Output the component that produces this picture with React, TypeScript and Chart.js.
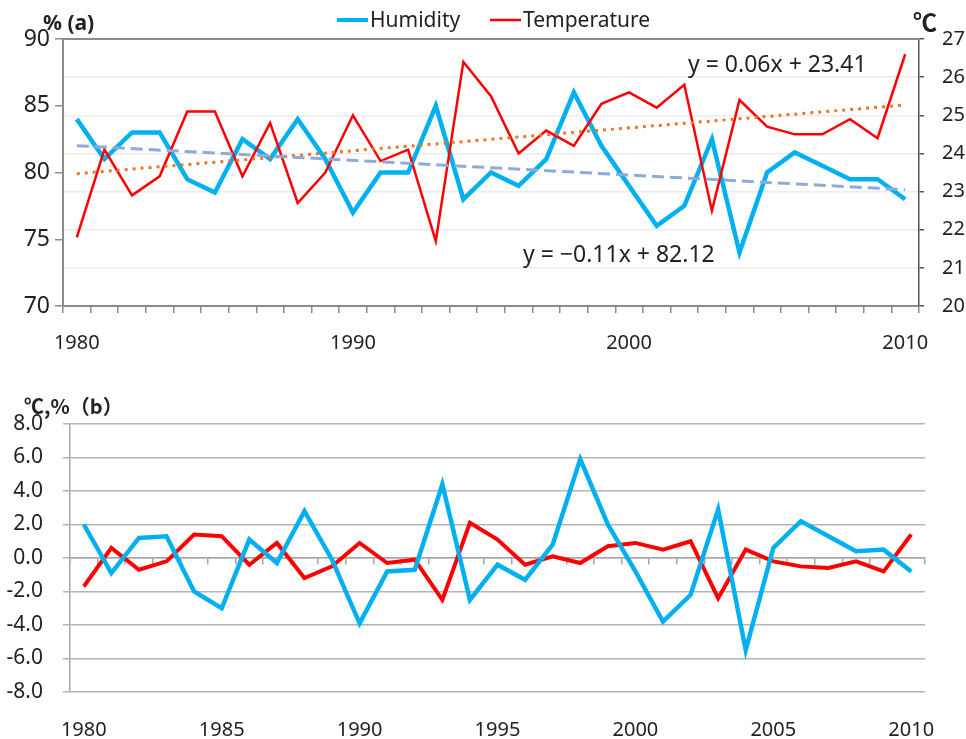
import React, { useEffect, useRef } from "react";
import { Chart, registerables } from "chart.js";

Chart.register(...registerables);

// ---------- data ----------
const years = [
  "1980", "1981", "1982", "1983", "1984", "1985", "1986", "1987", "1988", "1989",
  "1990", "1991", "1992", "1993", "1994", "1995", "1996", "1997", "1998", "1999",
  "2000", "2001", "2002", "2003", "2004", "2005", "2006", "2007", "2008", "2009", "2010",
];

const humidity = [
  84, 81, 83, 83, 79.5, 78.5, 82.5, 81, 84, 81,
  77, 80, 80, 85, 78, 80, 79, 81, 86, 82,
  79, 76, 77.5, 82.5, 74, 80, 81.5, 80.5, 79.5, 79.5, 78,
];

const temperature = [
  21.8, 24.1, 22.9, 23.4, 25.1, 25.1, 23.4, 24.8, 22.7, 23.5,
  25.0, 23.8, 24.1, 21.7, 26.4, 25.5, 24.0, 24.6, 24.2, 25.3,
  25.6, 25.2, 25.8, 22.5, 25.4, 24.7, 24.5, 24.5, 24.9, 24.4, 26.6,
];

const humidityAnomaly = [
  2.0, -0.9, 1.2, 1.3, -2.0, -3.0, 1.1, -0.3, 2.8, -0.1,
  -3.9, -0.8, -0.7, 4.4, -2.5, -0.4, -1.3, 0.8, 5.9, 2.0,
  -0.8, -3.8, -2.2, 2.9, -5.5, 0.6, 2.2, 1.3, 0.4, 0.5, -0.8,
];

const temperatureAnomaly = [
  -1.7, 0.6, -0.7, -0.2, 1.4, 1.3, -0.4, 0.9, -1.2, -0.5,
  0.9, -0.3, -0.1, -2.5, 2.1, 1.1, -0.4, 0.1, -0.3, 0.7,
  0.9, 0.5, 1.0, -2.4, 0.5, -0.2, -0.5, -0.6, -0.2, -0.8, 1.4,
];

// trendline equations shown in the chart (x = 1 .. n)
const humidityTrend = { slope: -0.11, intercept: 82.12, label: "y = \u22120.11x + 82.12" };
const temperatureTrend = { slope: 0.06, intercept: 23.41, label: "y = 0.06x + 23.41" };

const humidityAxis = { min: 70, max: 90, step: 5 };
const temperatureAxis = { min: 20, max: 27, step: 1 };
const anomalyAxis = { min: -8, max: 8, step: 2 };

const seriesNames = ["Humidity", "Temperature"];

// ---------- styles ----------
const FONT = "'Noto Sans', 'DejaVu Sans', sans-serif";
const TEXT = "#222222";
const CYAN = "#00b0f0";
const RED = "#ff0000";
const AXIS_GRAY = "#8c8c8c";

function trendSeries(t: { slope: number; intercept: number }) {
  const n = years.length;
  return years.map((_, i) => (i === 0 || i === n - 1 ? t.intercept + t.slope * (i + 1) : null));
}

const topDecor = {
  id: "topDecor",
  afterDraw(chart: any) {
    const { ctx, chartArea } = chart;
    ctx.save();
    // frame top line
    ctx.strokeStyle = AXIS_GRAY;
    ctx.lineWidth = 2;
    ctx.beginPath();
    ctx.moveTo(chartArea.left, chartArea.top);
    ctx.lineTo(chartArea.right, chartArea.top);
    ctx.stroke();

    // legend
    ctx.lineCap = "butt";
    ctx.strokeStyle = CYAN;
    ctx.lineWidth = 4;
    ctx.beginPath();
    ctx.moveTo(337, 20);
    ctx.lineTo(368, 20);
    ctx.stroke();
    ctx.strokeStyle = RED;
    ctx.lineWidth = 2.5;
    ctx.beginPath();
    ctx.moveTo(490, 20);
    ctx.lineTo(521, 20);
    ctx.stroke();

    ctx.fillStyle = TEXT;
    ctx.textBaseline = "middle";
    ctx.textAlign = "left";
    ctx.font = `21px ${FONT}`;
    ctx.fillText(seriesNames[0], 370, 21);
    ctx.fillText(seriesNames[1], 523, 21);

    // axis titles
    ctx.font = `bold 21px ${FONT}`;
    ctx.fillText("% (a)", 43, 24);
    ctx.font = `bold 24px 'Noto Sans CJK JP', ${FONT}`;
    ctx.fillText("\u2103", 913, 22);

    // trend equations
    ctx.font = `23px ${FONT}`;
    ctx.fillText(temperatureTrend.label, 688, 65);
    ctx.fillText(humidityTrend.label, 523, 255);
    ctx.restore();
  },
};

const bottomDecor = {
  id: "bottomDecor",
  afterDraw(chart: any) {
    const { ctx } = chart;
    ctx.save();
    ctx.fillStyle = TEXT;
    ctx.textBaseline = "middle";
    ctx.textAlign = "left";
    ctx.font = `bold 20px 'Noto Sans CJK JP', ${FONT}`;
    ctx.fillText("\u2103,%\uFF08b\uFF09", 24, 46);
    ctx.restore();
  },
};

export default function App() {
  const topRef = useRef<HTMLCanvasElement>(null);
  const bottomRef = useRef<HTMLCanvasElement>(null);

  useEffect(() => {
    const tickFont = { family: FONT, size: 20 };
    const leftTickFont = { family: FONT, size: 23 };

    const top = new Chart(topRef.current as HTMLCanvasElement, {
      type: "line",
      data: {
        labels: years,
        datasets: [
          {
            label: "Humidity trend",
            data: trendSeries(humidityTrend),
            yAxisID: "y",
            borderColor: "#8eaadb",
            borderWidth: 3,
            borderDash: [12, 6],
            pointRadius: 0,
            spanGaps: true,
            fill: false,
          },
          {
            label: "Temperature trend",
            data: trendSeries(temperatureTrend),
            yAxisID: "y1",
            borderColor: "#e8782a",
            borderWidth: 3,
            borderDash: [3, 5],
            pointRadius: 0,
            spanGaps: true,
            fill: false,
          },
          {
            label: seriesNames[1],
            data: temperature,
            yAxisID: "y1",
            borderColor: RED,
            borderWidth: 2.5,
            pointRadius: 0,
            tension: 0,
            fill: false,
          },
          {
            label: seriesNames[0],
            data: humidity,
            yAxisID: "y",
            borderColor: CYAN,
            borderWidth: 4.5,
            pointRadius: 0,
            tension: 0,
            fill: false,
          },
        ],
      },
      options: {
        responsive: false,
        animation: false,
        devicePixelRatio: 1,
        layout: { padding: { top: 39, left: 0, right: 0, bottom: 0 } },
        plugins: { legend: { display: false }, tooltip: { enabled: false } },
        scales: {
          x: {
            type: "category",
            offset: true,
            position: "bottom",
            afterFit: (s: any) => { s.height = 54; },
            border: { display: true, color: AXIS_GRAY, width: 2 },
            grid: {
              offset: true,
              drawOnChartArea: false,
              drawTicks: true,
              tickLength: 7,
              color: AXIS_GRAY,
              lineWidth: 1.5,
            },
            ticks: {
              autoSkip: false,
              maxRotation: 0,
              minRotation: 0,
              padding: 18,
              color: TEXT,
              font: tickFont,
              callback: (_v: any, i: number) => (Number(years[i]) % 10 === 0 ? years[i] : ""),
            },
          },
          y: {
            position: "left",
            min: humidityAxis.min,
            max: humidityAxis.max,
            afterFit: (s: any) => { s.width = 63; },
            border: { display: true, color: AXIS_GRAY, width: 2 },
            grid: { drawOnChartArea: false, tickLength: 8, color: AXIS_GRAY, lineWidth: 1.5 },
            ticks: { stepSize: humidityAxis.step, padding: 5, color: TEXT, font: leftTickFont },
          },
          y1: {
            position: "right",
            min: temperatureAxis.min,
            max: temperatureAxis.max,
            afterFit: (s: any) => { s.width = 47; },
            border: { display: true, color: "#555555", width: 1.5 },
            grid: {
              drawOnChartArea: true,
              tickLength: 5,
              lineWidth: 1.5,
              color: (c: any) =>
                c.tick && (c.tick.value === temperatureAxis.min || c.tick.value === temperatureAxis.max)
                  ? "rgba(0,0,0,0)"
                  : "#ececec",
              tickColor: "#555555",
            },
            ticks: { stepSize: temperatureAxis.step, padding: 18, color: TEXT, font: tickFont },
          },
        },
      } as any,
      plugins: [topDecor],
    });

    const bottom = new Chart(bottomRef.current as HTMLCanvasElement, {
      type: "line",
      data: {
        labels: years,
        datasets: [
          {
            label: seriesNames[0],
            data: humidityAnomaly,
            borderColor: CYAN,
            borderWidth: 4.5,
            pointRadius: 0,
            tension: 0,
            fill: false,
          },
          {
            label: seriesNames[1],
            data: temperatureAnomaly,
            borderColor: RED,
            borderWidth: 4,
            pointRadius: 0,
            tension: 0,
            fill: false,
          },
        ],
      },
      options: {
        responsive: false,
        animation: false,
        devicePixelRatio: 1,
        layout: { padding: { top: 64, left: 0, right: 41, bottom: 0 } },
        plugins: { legend: { display: false }, tooltip: { enabled: false } },
        scales: {
          x: {
            type: "category",
            offset: true,
            position: "bottom",
            afterFit: (s: any) => { s.height = 47; },
            border: { display: false },
            grid: { display: false, drawTicks: false },
            ticks: {
              autoSkip: false,
              maxRotation: 0,
              minRotation: 0,
              padding: 26,
              color: TEXT,
              font: tickFont,
              callback: (_v: any, i: number) => (Number(years[i]) % 5 === 0 ? years[i] : ""),
            },
          },
          x2: {
            type: "category",
            axis: "x",
            offset: true,
            position: { y: 0 },
            border: { display: true, color: "#a6a6a6", width: 1.5 },
            grid: {
              offset: true,
              drawOnChartArea: false,
              drawTicks: true,
              tickLength: 6,
              color: "#a6a6a6",
              lineWidth: 1.5,
            },
            ticks: { display: false },
          },
          y: {
            position: "left",
            min: anomalyAxis.min,
            max: anomalyAxis.max,
            afterFit: (s: any) => { s.width = 70; },
            border: { display: true, color: "#a6a6a6", width: 1.5 },
            grid: { drawOnChartArea: true, tickLength: 7, color: "#b5b5b5", lineWidth: 1.5 },
            ticks: {
              stepSize: anomalyAxis.step,
              padding: 20,
              color: TEXT,
              font: { family: FONT, size: 21 },
              callback: (v: any) => Number(v).toFixed(1),
            },
          },
        },
      } as any,
      plugins: [bottomDecor],
    });

    return () => {
      top.destroy();
      bottom.destroy();
    };
  }, []);

  return (
    <div style={{ position: "fixed", left: 0, top: 0, width: 966, height: 739, background: "#ffffff" }}>
      <canvas ref={topRef} width={966} height={360} style={{ position: "absolute", left: 0, top: 0, display: "block" }} />
      <canvas ref={bottomRef} width={966} height={379} style={{ position: "absolute", left: 0, top: 360, display: "block" }} />
    </div>
  );
}
